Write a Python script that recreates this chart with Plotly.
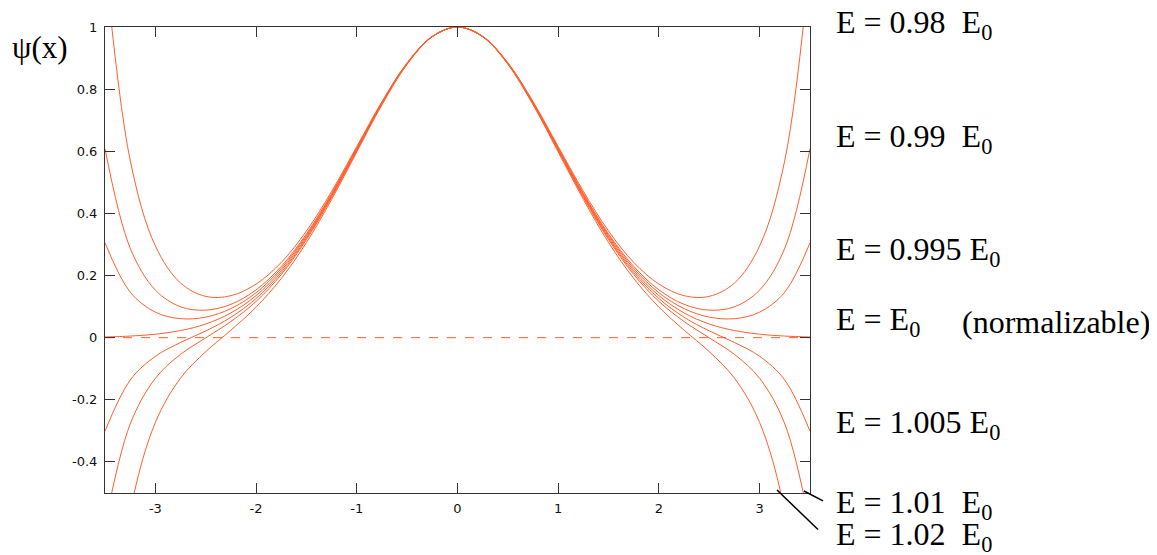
import plotly.graph_objects as go

# ---------------- data ----------------
x_vals = [-3.5, -3.25, -3.0, -2.75, -2.5, -2.25, -2.0, -1.75, -1.5, -1.25, -1.0, -0.75, -0.5, -0.25,
          0.0, 0.25, 0.5, 0.75, 1.0, 1.25, 1.5, 1.75, 2.0, 2.25, 2.5, 2.75, 3.0, 3.25, 3.5]

psi_e098 = [1.2144, 0.5713, 0.2953, 0.1759, 0.1330, 0.1351, 0.1724, 0.2422, 0.3433, 0.4709, 0.6153, 0.7600, 0.8849, 0.9698,
            1.0, 0.9698, 0.8849, 0.7600, 0.6153, 0.4709, 0.3433, 0.2422, 0.1724, 0.1351, 0.1330, 0.1759, 0.2953, 0.5713, 1.2144]
psi_e099 = [0.6083, 0.2882, 0.1532, 0.0994, 0.0885, 0.1073, 0.1539, 0.2293, 0.3340, 0.4644, 0.6109, 0.7574, 0.8837, 0.9695,
            1.0, 0.9695, 0.8837, 0.7574, 0.6109, 0.4644, 0.3340, 0.2293, 0.1539, 0.1073, 0.0885, 0.0994, 0.1532, 0.2882, 0.6083]
psi_e0995 = [0.3053, 0.1467, 0.0822, 0.0611, 0.0662, 0.0935, 0.1446, 0.2228, 0.3294, 0.4611, 0.6087, 0.7561, 0.8831, 0.9694,
             1.0, 0.9694, 0.8831, 0.7561, 0.6087, 0.4611, 0.3294, 0.2228, 0.1446, 0.0935, 0.0662, 0.0611, 0.0822, 0.1467, 0.3053]
psi_e1 = [0.0022, 0.0051, 0.0111, 0.0228, 0.0439, 0.0796, 0.1353, 0.2163, 0.3247, 0.4578, 0.6065, 0.7548, 0.8825, 0.9692,
          1.0, 0.9692, 0.8825, 0.7548, 0.6065, 0.4578, 0.3247, 0.2163, 0.1353, 0.0796, 0.0439, 0.0228, 0.0111, 0.0051, 0.0022]
psi_e1005 = [-0.3009, -0.1365, -0.0600, -0.0155, 0.0216, 0.0657, 0.1260, 0.2098, 0.3200, 0.4545, 0.6043, 0.7535, 0.8819, 0.9690,
             1.0, 0.9690, 0.8819, 0.7535, 0.6043, 0.4545, 0.3200, 0.2098, 0.1260, 0.0657, 0.0216, -0.0155, -0.0600, -0.1365, -0.3009]
psi_e101 = [-0.6039, -0.2780, -0.1310, -0.0538, -0.0007, 0.0519, 0.1167, 0.2033, 0.3154, 0.4512, 0.6021, 0.7522, 0.8813, 0.9689,
            1.0, 0.9689, 0.8813, 0.7522, 0.6021, 0.4512, 0.3154, 0.2033, 0.1167, 0.0519, -0.0007, -0.0538, -0.1310, -0.2780, -0.6039]
psi_e102 = [-1.2100, -0.5611, -0.2731, -0.1303, -0.0452, 0.0241, 0.0982, 0.1904, 0.3061, 0.4447, 0.5977, 0.7496, 0.8801, 0.9686,
            1.0, 0.9686, 0.8801, 0.7496, 0.5977, 0.4447, 0.3061, 0.1904, 0.0982, 0.0241, -0.0452, -0.1303, -0.2731, -0.5611, -1.2100]

zero_x = [-3.5, 3.5]
zero_y = [0.0, 0.0]

x_tickvals = [-3, -2, -1, 0, 1, 2, 3]
x_ticktext = ["-3", "-2", "-1", "0", "1", "2", "3"]
y_tickvals = [-0.4, -0.2, 0, 0.2, 0.4, 0.6, 0.8, 1]
y_ticktext = ["-0.4", "-0.2", "0", "0.2", "0.4", "0.6", "0.8", "1"]

curve_labels = ["E = 0.98&nbsp;&nbsp;E<sub>0</sub>", "E = 0.99&nbsp;&nbsp;E<sub>0</sub>",
                "E = 0.995 E<sub>0</sub>", "E = E<sub>0</sub>", "E = 1.005 E<sub>0</sub>",
                "E = 1.01&nbsp;&nbsp;E<sub>0</sub>", "E = 1.02&nbsp;&nbsp;E<sub>0</sub>"]

# ---------------- layout helpers (page pixels of the reference) ----------------
W, H = 1157, 555
OFF = 8  # page body margin
L, R, T, B = 105 - OFF, 810 - OFF, 20 - OFF, 493 - OFF


def px_x(px):
    """page x pixel -> paper coordinate"""
    return (px - OFF - L) / (R - L)


def px_y(py):
    """page y pixel -> paper coordinate"""
    return (B - (py - OFF)) / (B - T)


LINE_COLOR = "rgb(255,95,45)"

fig = go.Figure()
for ys in [psi_e098, psi_e099, psi_e0995, psi_e1, psi_e1005, psi_e101, psi_e102]:
    fig.add_trace(go.Scatter(x=x_vals, y=ys, mode="lines",
                             line=dict(color=LINE_COLOR, width=1, shape="spline", smoothing=1.0),
                             showlegend=False, hoverinfo="skip"))
fig.add_trace(go.Scatter(x=zero_x, y=zero_y, mode="lines",
                         line=dict(color=LINE_COLOR, width=1, dash="dash"),
                         showlegend=False, hoverinfo="skip"))

axis_common = dict(showline=True, linecolor="#333333", linewidth=1, mirror="ticks",
                   ticks="inside", ticklen=10, tickcolor="#333333", tickwidth=1,
                   showgrid=False, zeroline=False,
                   tickfont=dict(family="DejaVu Sans, Arial, sans-serif", size=13, color="#111111"))

fig.update_xaxes(range=[-3.5, 3.5], tickvals=x_tickvals, ticktext=x_ticktext,
                 ticklabelstandoff=3, **axis_common)
fig.update_yaxes(range=[-0.5, 1.0], tickvals=y_tickvals, ticktext=y_ticktext,
                 ticklabelstandoff=4, **axis_common)

serif = "Liberation Serif, Times New Roman, serif"
annotations = [dict(text="ψ(x)", xref="paper", yref="paper", x=px_x(10), y=px_y(41),
                    xanchor="left", yanchor="middle", showarrow=False,
                    font=dict(family=serif, size=31, color="black"))]

# page y of each label (cap centre in the reference, corrected for annotation box)
label_y = [17, 133, 248, 319, 423.5, 505, 537]
for txt, py in zip(curve_labels, label_y):
    annotations.append(dict(text=txt, xref="paper", yref="paper", x=px_x(834), y=px_y(py),
                            xanchor="left", yanchor="middle", showarrow=False,
                            font=dict(family=serif, size=32, color="black")))
annotations.append(dict(text="(normalizable)", xref="paper", yref="paper", x=px_x(960), y=px_y(319),
                        xanchor="left", yanchor="middle", showarrow=False,
                        font=dict(family=serif, size=32, color="black")))

shapes = [
    dict(type="line", xref="paper", yref="paper", x0=px_x(777), y0=px_y(490), x1=px_x(818), y1=px_y(530),
         line=dict(color="black", width=1.5)),
    dict(type="line", xref="paper", yref="paper", x0=px_x(804), y0=px_y(491), x1=px_x(823), y1=px_y(501),
         line=dict(color="black", width=1.5)),
]

fig.update_layout(width=W, height=H, margin=dict(l=L, r=W - R, t=T, b=H - B),
                  paper_bgcolor="white", plot_bgcolor="white",
                  annotations=annotations, shapes=shapes)

fig.write_html("out.html")
